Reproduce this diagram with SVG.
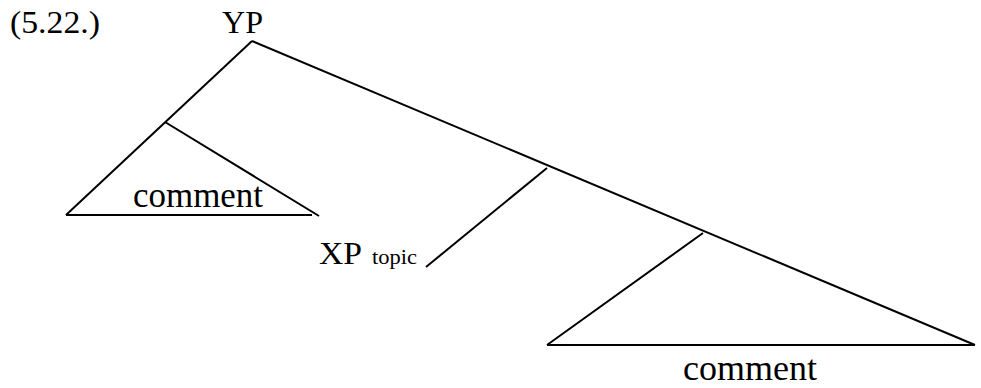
<svg xmlns="http://www.w3.org/2000/svg" width="981" height="388" viewBox="0 0 981 388">
<style>
  .t { font-family: "Liberation Serif", "DejaVu Serif", serif; fill: #000; }
  .big { font-size: 31px; }
  .cm { font-size: 35px; }
  .small { font-size: 20px; }
  .ln { stroke: #000; stroke-width: 2; fill: none; stroke-linecap: butt; }
</style>
<rect width="981" height="388" fill="#fff"/>
<g id="label"><text class="t big" x="10" y="33" textLength="90" lengthAdjust="spacingAndGlyphs">(5.22.)</text></g>
<g id="node-YP"><text class="t big" x="222" y="33" textLength="41" lengthAdjust="spacingAndGlyphs">YP</text></g>
<g id="node-comment1"><text class="t cm" x="133" y="207" textLength="130" lengthAdjust="spacingAndGlyphs">comment</text></g>
<g id="node-XP"><text class="t big" x="319" y="264" textLength="43" lengthAdjust="spacingAndGlyphs">XP</text><text class="t small" x="372" y="264" textLength="45" lengthAdjust="spacingAndGlyphs">topic</text></g>
<g id="node-comment2"><text class="t cm" x="683" y="380" textLength="134" lengthAdjust="spacingAndGlyphs">comment</text></g>
<g id="connectors">
  <line class="ln" x1="252" y1="41" x2="66" y2="215"/>
  <line class="ln" x1="165" y1="122" x2="319" y2="216"/>
  <line class="ln" x1="66" y1="215" x2="312" y2="215"/>
  <line class="ln" x1="252" y1="41" x2="975" y2="345"/>
  <line class="ln" x1="547" y1="168" x2="426" y2="267"/>
  <line class="ln" x1="703" y1="233" x2="547" y2="345"/>
  <line class="ln" x1="547" y1="345" x2="975" y2="345"/>
</g>
</svg>
